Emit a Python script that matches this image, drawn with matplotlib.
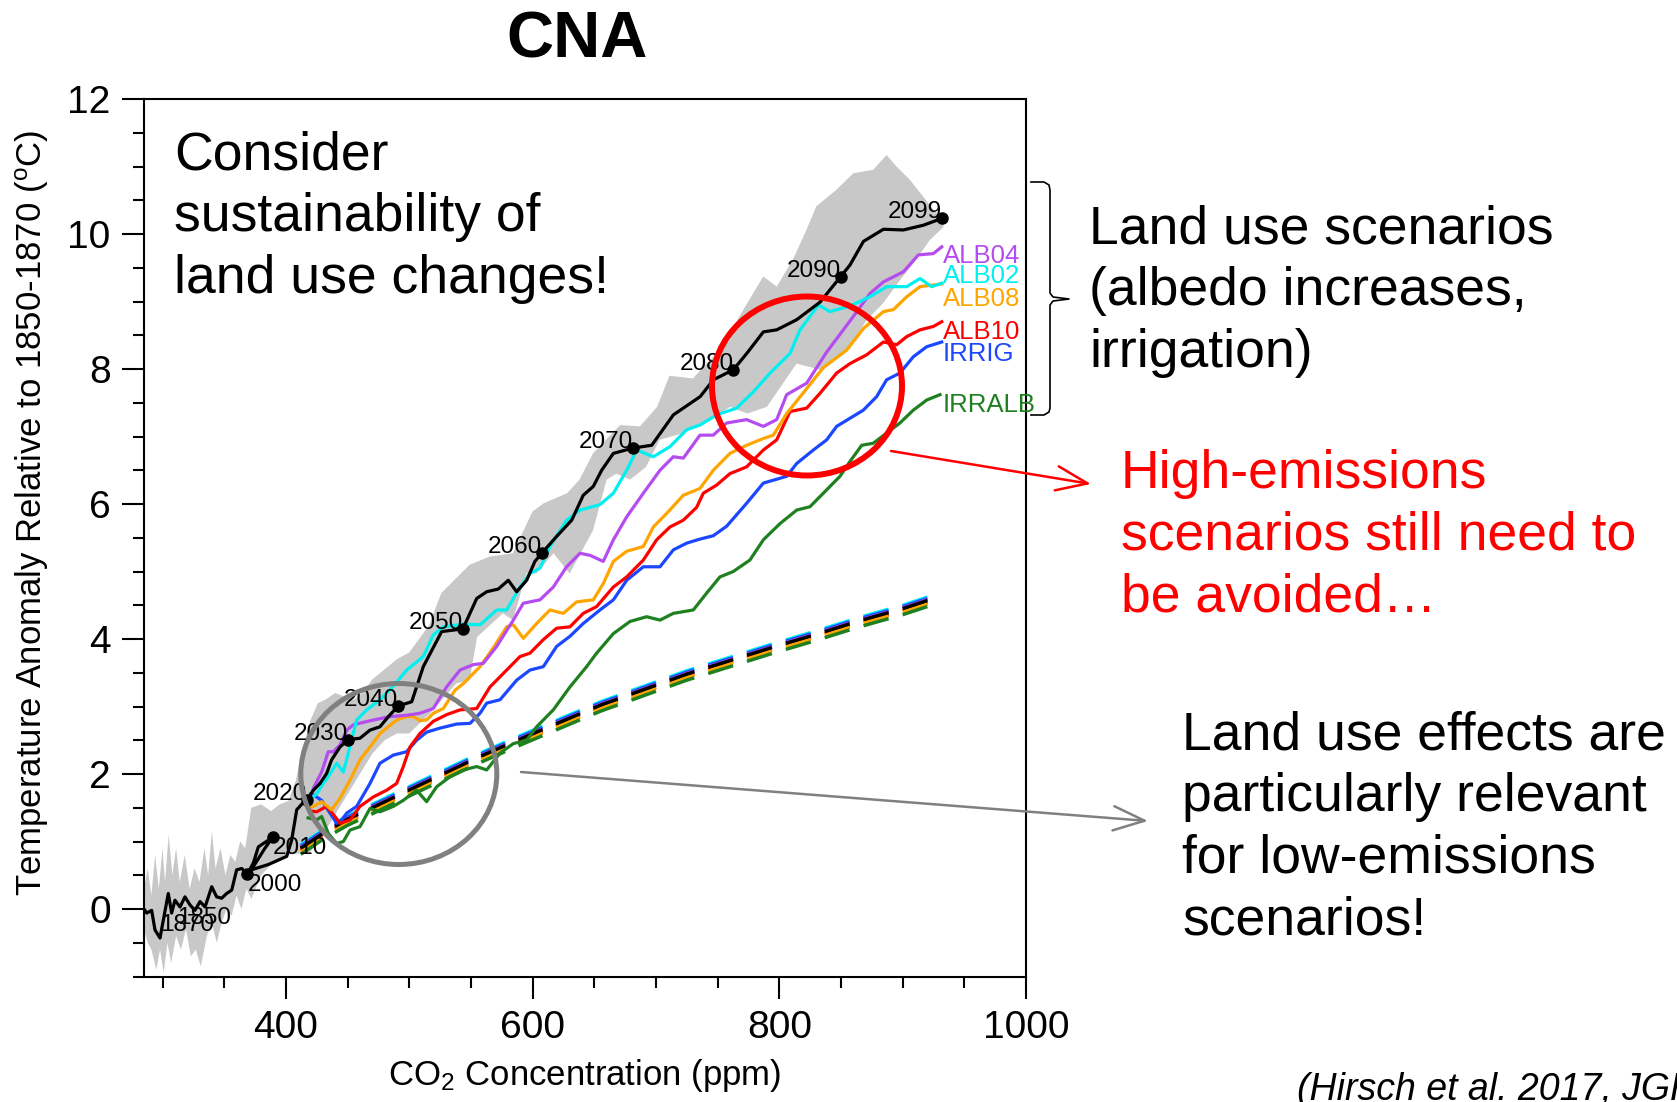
import matplotlib
matplotlib.use('Agg')
import matplotlib.pyplot as plt
from matplotlib.patches import Ellipse
from matplotlib.lines import Line2D
from matplotlib.ticker import MultipleLocator

plt.rcParams['font.family'] = ['Liberation Sans', 'DejaVu Sans']
plt.rcParams['mathtext.fontset'] = 'custom'
plt.rcParams['mathtext.rm'] = 'Liberation Sans'
plt.rcParams['mathtext.it'] = 'Liberation Sans:italic'

# ---- data (CO2 ppm, temperature anomaly degC) ----
# black ensemble mean, historical + high emissions
blk_x = [285, 287.2, 291.2, 293.9, 298, 300.7, 304.7, 307.4, 310.1, 314.2, 318.2, 322.3, 326.3,
         330.4, 334.5, 339.9, 343.9, 348, 352, 356.1, 360.1, 364.2, 368.8, 373.6, 377.7, 381.7,
         389.3, 383, 372, 386, 400.7, 404.7, 408.8, 414.2, 417, 422.3, 427.7, 433.1, 437.1, 443.9,
         450.6, 460.1, 468.2, 476.3, 483.1, 491.2, 502, 511.4, 526.3, 543.5, 554.7, 562.8, 572.2,
         580.3, 587.1, 595.2, 601.9, 607.4, 619.5, 631.7, 641.1, 649.2, 656, 665.5, 681.7, 696.6,
         714.1, 735.8, 746.6, 762.8, 773.6, 787.1, 797.9, 814.1, 833, 849.8, 857.3, 868.2, 884.4,
         900.6, 916.8, 931.7]
blk_y = [0.0, -0.06, -0.02, -0.31, -0.43, -0.16, 0.23, -0.06, 0.13, 0.03, 0.18, 0.06, -0.02,
         0.11, 0.03, 0.33, 0.18, 0.16, 0.23, 0.28, 0.58, 0.60, 0.52, 0.68, 0.92, 0.97,
         1.06, 0.90, 0.58, 0.66, 0.78, 1.02, 1.47, 1.58, 1.61, 1.76, 1.86, 2.01, 2.21, 2.40,
         2.51, 2.53, 2.65, 2.70, 2.85, 3.01, 3.07, 3.59, 4.11, 4.15, 4.60, 4.70, 4.74,
         4.87, 4.70, 4.87, 5.15, 5.27, 5.52, 5.76, 6.13, 6.26, 6.50, 6.75, 6.83, 6.87,
         7.32, 7.59, 7.84, 7.99, 8.23, 8.55, 8.58, 8.73, 8.99, 9.37, 9.54, 9.89, 10.07,
         10.06, 10.13, 10.23]

# grey spread: upper edge left->right, lower edge right->left
env_up_x = [285, 288, 291, 294, 297, 300, 302, 305, 308, 311, 314, 318, 322, 326, 330, 334, 337,
            340, 343, 347, 351, 355, 359, 363, 367, 372, 380, 388, 395, 402, 408, 414, 420, 426,
            432, 440, 447, 455, 462, 470, 480, 490, 500, 508, 516, 526, 538, 549, 565, 584, 600,
            609, 628, 638, 649, 671, 687, 701, 711, 730, 741, 760, 766, 787, 798, 811, 822, 830,
            846, 860, 876, 887, 895, 906, 925, 933]
env_up_y = [0.3, 0.6, 0.2, 0.8, 0.3, 0.9, 0.4, 1.1, 0.5, 0.9, 0.4, 0.8, 0.3, 0.6, 0.4, 0.9, 0.5,
            1.15, 0.6, 0.9, 0.5, 0.8, 0.7, 1.0, 0.9, 1.5, 1.55, 1.45, 1.55, 1.6, 1.9, 2.4, 2.8, 3.05,
            3.1, 3.2, 3.15, 3.1, 3.2, 3.4, 3.55, 3.7, 3.8, 4.0, 4.2, 4.68, 4.9, 5.10, 5.22, 5.27, 5.89,
            6.01, 6.16, 6.36, 6.75, 7.17, 7.15, 7.44, 7.9, 7.86, 8.08, 8.43, 8.73, 9.37, 9.22, 9.62, 10.06, 10.41,
            10.65, 10.9, 10.95, 11.17, 11.0, 10.8, 10.36, 10.21]
env_lo_x = [933, 922, 909, 898, 884, 871, 855, 833, 814, 790, 774, 760, 744, 722, 703, 692, 679,
            668, 660, 649, 630, 617, 603, 595, 584, 576, 555, 549, 538, 517, 500, 490, 480, 470,
            460, 450, 440, 430, 420, 410, 400, 390, 380, 372, 368, 364, 360, 356, 352, 348, 344,
            340, 336, 331, 327, 323, 319, 315, 311, 307, 304, 301, 298, 295, 291, 288, 285]
env_lo_y = [10.1, 9.91, 9.57, 9.32, 8.97, 8.73, 8.28, 7.99, 8.08, 7.44, 7.34, 7.44, 7.24, 7.05, 6.95, 6.55, 6.36,
            6.45, 6.36, 5.61, 4.97, 5.27, 4.97, 4.97, 4.28, 4.38, 4.03, 3.39, 3.34, 2.9, 2.6, 2.6, 2.5, 2.3,
            2.0, 1.7, 1.4, 1.1, 0.85, 0.82, 0.8, 0.7, 0.5, 0.15, 0.3, 0.0, 0.2, -0.1, 0.0, -0.2, -0.5,
            -0.2, -0.4, -0.85, -0.6, -0.7, -0.3, -0.6, -0.4, -0.8, -0.5, -0.95, -0.6, -0.9, -0.6, -0.5, -0.3]

# land use scenarios (solid)
alb02_x = [420, 425, 430.4, 434.4, 441.2, 446.6, 450.6, 457.4, 465.5, 476.3, 487.1, 497.9, 511.4, 519.5,
           527.6, 543.9, 557.4, 570.9, 579, 589.8, 597.9, 606, 614.1, 627.6, 638.4, 654.6, 665.5, 676.3,
           684.4, 697.9, 711.4, 724.9, 735.7, 749.2, 765.4, 778.9, 792.5, 808.7, 816.8, 831.7, 841.1,
           854.6, 865.5, 876.3, 887.1, 903.3, 914.1, 923.5, 931.7]
alb02_y = [1.62, 1.71, 1.86, 1.96, 2.16, 2.03, 2.31, 2.80, 2.95, 3.10, 3.30, 3.54, 3.74, 4.06,
           4.18, 4.22, 4.21, 4.43, 4.43, 4.77, 4.97, 5.05, 5.37, 5.76, 5.91, 5.99, 6.16, 6.50,
           6.80, 6.70, 6.85, 7.10, 7.17, 7.32, 7.42, 7.66, 7.94, 8.23, 8.58, 8.95, 8.85,
           8.92, 9.0, 9.1, 9.22, 9.22, 9.34, 9.22, 9.27]
alb04_x = [420, 422.3, 429, 434.4, 438.5, 443.9, 449.3, 454.7, 470.9, 484.4, 497.9, 508.7, 519.5, 530.3,
           541.2, 552, 560.1, 570.9, 584.4, 592.5, 606, 616.8, 627.6, 638.4, 646.5, 657.3, 665.5, 676.3,
           689.8, 703.3, 714.1, 722.2, 735.7, 746.5, 757.3, 773.5, 787.1, 797.9, 806, 822.2, 838.4,
           860.1, 873.6, 884.4, 900.6, 912.7, 924.9, 931.7]
alb04_y = [1.60, 1.79, 2.03, 2.33, 2.33, 2.43, 2.65, 2.73, 2.80, 2.85, 2.87, 2.90, 2.97, 3.29,
           3.54, 3.62, 3.64, 3.89, 4.28, 4.53, 4.58, 4.77, 5.07, 5.27, 5.24, 5.15, 5.47, 5.81,
           6.16, 6.50, 6.70, 6.68, 7.02, 7.02, 7.20, 7.25, 7.15, 7.25, 7.62, 7.79, 8.25,
           8.78, 9.12, 9.29, 9.44, 9.69, 9.71, 9.81]
alb08_x = [420, 422.3, 429, 437.1, 443.9, 452, 460.1, 468.2, 476.3, 489.8, 497.9, 503.3, 508.7, 514.1,
           519.5, 527.6, 537.1, 543.9, 557.4, 568.2, 579, 584.4, 592.5, 603.3, 614.1, 624.9, 635.7,
           649.2, 657.3, 665.5, 676.3, 689.8, 697.9, 708.7, 722.2, 735.7, 746.5, 760, 773.5, 787.1,
           795.2, 806, 822.2, 835.7, 854.6, 868.2, 884.4, 892.5, 903.3, 914.1, 931.7]
alb08_y = [1.50, 1.52, 1.59, 1.47, 1.64, 1.91, 2.21, 2.40, 2.60, 2.80, 2.85, 2.85, 2.79, 2.80,
           2.90, 2.97, 3.24, 3.34, 3.59, 3.87, 4.18, 4.21, 4.01, 4.23, 4.43, 4.38, 4.55,
           4.58, 4.82, 5.15, 5.30, 5.37, 5.66, 5.86, 6.13, 6.23, 6.50, 6.75, 6.87, 6.97,
           7.02, 7.34, 7.71, 8.02, 8.28, 8.60, 8.85, 8.88, 9.07, 9.22, 9.26]
alb10_x = [420, 425, 433.1, 439.8, 443.9, 452, 460.1, 470.9, 481.7, 489.8, 495.2, 500.6, 508.7, 519.5,
           530.4, 541.2, 554.7, 565.5, 579, 589.8, 597.9, 608.7, 619.5, 630.3, 641.1, 651.9, 665.5,
           676.3, 689.8, 700.6, 711.4, 722.2, 733, 738.4, 749.2, 760, 773.5, 787.1, 797.9, 808.7,
           822.2, 833, 846.5, 857.3, 870.8, 884.4, 895.2, 903.3, 914.1, 924.9, 931.7]
alb10_y = [1.45, 1.44, 1.52, 1.37, 1.27, 1.32, 1.52, 1.66, 1.76, 1.86, 2.11, 2.40, 2.60, 2.78,
           2.88, 2.95, 2.97, 3.29, 3.54, 3.74, 3.79, 3.99, 4.16, 4.18, 4.38, 4.48, 4.77,
           4.92, 5.17, 5.47, 5.66, 5.76, 5.95, 6.16, 6.28, 6.45, 6.55, 6.80, 6.95, 7.37,
           7.42, 7.64, 7.94, 8.08, 8.21, 8.40, 8.36, 8.48, 8.58, 8.63, 8.70]
irrig_x = [420, 422.3, 429, 435.8, 441.2, 445.3, 449.3, 457.4, 468.2, 476.3, 487.1, 497.9, 506, 514.1,
           525, 538.5, 549.3, 557.4, 562.8, 573.6, 587.1, 597.9, 608.7, 619.5, 630.3, 641.1, 654.6,
           665.5, 676.3, 689.8, 703.3, 714.1, 724.9, 735.7, 746.5, 757.3, 773.5, 787.1, 806, 814.1,
           827.6, 838.4, 846.5, 857.3, 868.1, 878.9, 887, 897.8, 908.6, 919.5, 931.7]
irrig_y = [1.70, 1.69, 1.61, 1.42, 1.27, 1.32, 1.42, 1.52, 1.86, 2.16, 2.28, 2.33, 2.50, 2.62,
           2.68, 2.74, 2.75, 2.90, 3.05, 3.10, 3.39, 3.54, 3.59, 3.89, 4.04, 4.23, 4.43,
           4.58, 4.87, 5.07, 5.07, 5.32, 5.42, 5.48, 5.53, 5.67, 6.01, 6.31, 6.41, 6.60,
           6.80, 6.95, 7.15, 7.27, 7.39, 7.59, 7.84, 7.94, 8.18, 8.33, 8.40]
irralb_x = [418, 425, 429, 434.4, 441.2, 446.6, 452, 460.1, 468.2, 476.3, 487.1, 495.2, 506, 514.1,
            522.2, 533.1, 543.9, 554.7, 562.8, 573.6, 584.4, 595.2, 603.3, 616.8, 630.3, 643.8, 651.9,
            665.5, 679, 692.5, 703.3, 714.1, 730.3, 741.1, 751.9, 762.7, 776.2, 787.1, 800.6, 814.1,
            824.9, 838.4, 849.2, 857.3, 866.8, 876.2, 887, 897.8, 908.6, 919.5, 930.3]
irralb_y = [1.35, 1.32, 1.37, 1.12, 0.97, 1.0, 1.17, 1.22, 1.49, 1.44, 1.52, 1.61, 1.76, 1.59,
            1.81, 1.96, 2.06, 2.11, 2.06, 2.31, 2.45, 2.50, 2.70, 2.95, 3.29, 3.59, 3.79,
            4.08, 4.26, 4.33, 4.28, 4.38, 4.43, 4.68, 4.92, 5.0, 5.17, 5.47, 5.71, 5.91,
            5.96, 6.21, 6.41, 6.63, 6.87, 6.90, 7.05, 7.20, 7.39, 7.54, 7.62]

# low emissions runs (dashed)
low_x = [412, 430, 450, 470, 495, 525, 555, 585, 620, 655, 690, 725, 760, 795, 830, 865, 900, 930]
low_ctl = [0.90, 1.12, 1.33, 1.50, 1.72, 1.98, 2.24, 2.48, 2.75, 3.02, 3.25, 3.48, 3.68, 3.88, 4.07, 4.27, 4.45, 4.63]
low_alb02 = [0.95, 1.17, 1.38, 1.55, 1.77, 2.03, 2.29, 2.53, 2.80, 3.07, 3.30, 3.53, 3.73, 3.93, 4.12, 4.32, 4.50, 4.68]
low_irrig = [0.93, 1.15, 1.36, 1.53, 1.75, 2.01, 2.27, 2.51, 2.78, 3.05, 3.28, 3.51, 3.71, 3.91, 4.10, 4.30, 4.48, 4.66]
low_alb04 = [0.91, 1.13, 1.34, 1.51, 1.73, 1.99, 2.25, 2.49, 2.76, 3.03, 3.26, 3.49, 3.69, 3.89, 4.08, 4.28, 4.46, 4.64]
low_alb10 = [0.87, 1.09, 1.30, 1.47, 1.69, 1.95, 2.21, 2.45, 2.72, 2.99, 3.22, 3.45, 3.65, 3.85, 4.04, 4.24, 4.42, 4.60]
low_alb08 = [0.85, 1.07, 1.28, 1.45, 1.67, 1.93, 2.19, 2.43, 2.70, 2.97, 3.20, 3.43, 3.63, 3.83, 4.02, 4.22, 4.40, 4.58]
low_irralb = [0.81, 1.03, 1.24, 1.41, 1.63, 1.89, 2.15, 2.39, 2.66, 2.93, 3.16, 3.39, 3.59, 3.79, 3.98, 4.18, 4.36, 4.54]

# year markers on the black curve
yr_lab = ['2000', '2010', '2020', '2030', '2040', '2050', '2060', '2070', '2080', '2090', '2099']
yr_x = [368.8, 389.3, 417, 450.6, 491.2, 543.5, 607.4, 681.7, 762.8, 849.8, 931.7]
yr_y = [0.52, 1.06, 1.61, 2.51, 3.01, 4.15, 5.27, 6.83, 7.99, 9.37, 10.23]
early_lab = ['1870', '1850']
early_x = [298, 311.5]
early_y = [-0.07, 0.03]

# end-of-line labels
end_lab = ['ALB04', 'ALB02', 'ALB08', 'ALB10', 'IRRIG', 'IRRALB']
end_y = [9.68, 9.38, 9.04, 8.55, 8.22, 7.47]

C_PUR = '#b44cf0'
C_CYA = '#00f0f0'
C_ORA = '#ffa500'
C_RED = '#ff0000'
C_BLU = '#1a47ff'
C_GRN = '#1f801f'
end_col = [C_PUR, C_CYA, C_ORA, C_RED, C_BLU, C_GRN]

W, H = 1677, 1102


def fp(x, y):
    # figure pixel (from top-left) -> figure fraction
    return (x / W, 1 - y / H)


fig = plt.figure(figsize=(W / 100, H / 100), dpi=100)
ax = fig.add_axes([144 / W, 1 - 976.5 / H, 882 / W, 877.5 / H])

ax.fill(env_up_x + env_lo_x, env_up_y + env_lo_y, color='#c8c8c8', lw=0, zorder=1)

# dashed low-emission lines
dash = (7.5, 4.2)
for yy, c in [(low_alb02, C_CYA), (low_irrig, C_BLU), (low_alb04, C_PUR), (low_alb10, C_RED),
              (low_alb08, C_ORA), (low_irralb, C_GRN), (low_ctl, 'k')]:
    ax.plot(low_x, yy, color=c, lw=2.5, dashes=dash, zorder=2)

# solid land use lines
for xx, yy, c in [(irralb_x, irralb_y, C_GRN), (irrig_x, irrig_y, C_BLU), (alb10_x, alb10_y, C_RED),
                  (alb08_x, alb08_y, C_ORA), (alb04_x, alb04_y, C_PUR), (alb02_x, alb02_y, C_CYA)]:
    ax.plot(xx, yy, color=c, lw=2.3, zorder=3, solid_joinstyle='round')

ax.plot(blk_x, blk_y, color='k', lw=2.3, zorder=4, solid_joinstyle='round')
ax.plot(yr_x, yr_y, 'o', color='k', ms=8, zorder=5)

for lab, x, y in zip(yr_lab, yr_x, yr_y):
    if lab in ('2000', '2010'):
        ax.text(x, y, lab, fontsize=17.5, ha='left', va='top', zorder=6)
    else:
        ax.text(x, y, lab, fontsize=17.5, ha='right', va='baseline', zorder=6)
for lab, x, y in zip(early_lab, early_x, early_y):
    ax.text(x, y, lab, fontsize=17.5, ha='left', va='top', zorder=6)

for lab, y, c in zip(end_lab, end_y, end_col):
    ax.text(932.5, y, lab, color=c, fontsize=18.5, ha='left', va='center', zorder=6)

ax.set_xlim(285, 1000)
ax.set_ylim(-1, 12)
ax.xaxis.set_major_locator(MultipleLocator(200))
ax.xaxis.set_minor_locator(MultipleLocator(50))
ax.yaxis.set_major_locator(MultipleLocator(2))
ax.yaxis.set_minor_locator(MultipleLocator(0.5))
ax.tick_params(which='major', length=16, width=1.5, direction='out', labelsize=28, pad=8)
ax.tick_params(which='minor', length=8, width=1.5, direction='out')
for s in ax.spines.values():
    s.set_linewidth(1.5)

ax.set_xlabel('CO$_2$ Concentration (ppm)', fontsize=25)
ax.xaxis.set_label_coords(0.5, -0.113)
ax.xaxis.label.set_va('center')
ax.set_ylabel(r'Temperature Anomaly Relative to 1850-1870 ($^{\rm o}$C)', fontsize=25)
ax.yaxis.set_label_coords(-0.127, 0.528)
ax.yaxis.label.set_va('center')

fig.text(*fp(577, 40), 'CNA', fontsize=47, weight='bold', ha='center', va='center')

# annotations
fig.text(*fp(174, 217), 'Consider\nsustainability of\nland use changes!', fontsize=38.5,
         ha='left', va='center', linespacing=1.3)
fig.text(*fp(1089, 291), 'Land use scenarios\n(albedo increases,\nirrigation)', fontsize=38.5,
         ha='left', va='center', linespacing=1.3)
fig.text(*fp(1121, 536), 'High-emissions\nscenarios still need to\nbe avoided…', fontsize=38.5,
         color='red', ha='left', va='center', linespacing=1.3)
fig.text(*fp(1182, 828), 'Land use effects are\nparticularly relevant\nfor low-emissions\nscenarios!',
         fontsize=38.5, ha='left', va='center', linespacing=1.3)
fig.text(*fp(1297, 1090), '(Hirsch et al. 2017, JGR)', fontsize=27, style='italic',
         ha='left', va='center')

fig.add_artist(Ellipse(fp(807, 386), 190 / W, 179 / H, transform=fig.transFigure,
                       fill=False, ec='red', lw=4.3))
fig.add_artist(Ellipse(fp(398.8, 774), 196 / W, 181 / H, transform=fig.transFigure,
                       fill=False, ec='#808080', lw=3.6))

ax.annotate('', xy=fp(1091, 484), xytext=fp(891, 451), xycoords='figure fraction',
            textcoords='figure fraction', annotation_clip=False,
            arrowprops=dict(arrowstyle='->,head_length=0.9,head_width=0.35', color='red',
                            lw=1.8, mutation_scale=25, shrinkA=0, shrinkB=0))
ax.annotate('', xy=fp(1148, 821), xytext=fp(521, 772), xycoords='figure fraction',
            textcoords='figure fraction', annotation_clip=False,
            arrowprops=dict(arrowstyle='->,head_length=0.9,head_width=0.35', color='#808080',
                            lw=1.8, mutation_scale=25, shrinkA=0, shrinkB=0))

# curly brace
bx = [1031, 1044, 1049, 1050, 1050, 1053, 1069, 1053, 1050, 1050, 1049, 1044, 1031]
by = [182, 182, 185, 190, 293, 297, 299, 301, 305, 408, 412, 415, 415]
fig.add_artist(Line2D([v / W for v in bx], [1 - v / H for v in by], transform=fig.transFigure,
                      color='k', lw=1.2))

fig.savefig('out.png', dpi=100)
